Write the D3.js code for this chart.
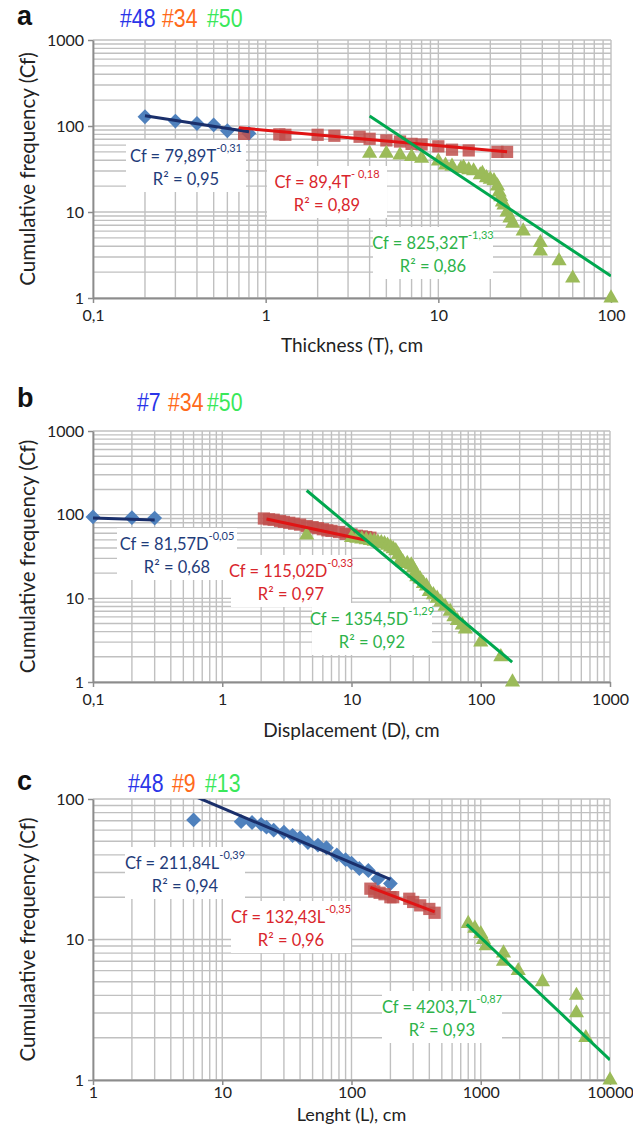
<!DOCTYPE html>
<html>
<head>
<meta charset="utf-8">
<script src="https://cdnjs.cloudflare.com/ajax/libs/d3/7.8.5/d3.min.js"></script>
<style>
  body { margin: 0; background: #fff; }
  svg { display: block; font-family: Lato, "Open Sans", sans-serif; }
</style>
</head>
<body>
<svg id="chart" width="633" height="1125"></svg>
<script>
// ---- panel a : thickness ----
const thickBlue = [[0.2,128],[0.3,114],[0.4,107],[0.5,103],[0.6,88],[0.8,82]];
const thickRed = [[0.75,81],[1.2,80],[1.3,79],[2,79],[2.5,77],[3.5,75],[4,71],[5,68],[6,66],[7,62],[8,61],[10,58],[12,53],[15,52],[22,50],[25,50]];
const thickGreen = [[4,48],[5,48],[6,46],[7,44],[8,42],[10,39],[11,35],[12,34],[13.5,32],[14,33],[15,31],[16,30],[17.5,27],[18,28],[19,25],[20,24],[21,23],[22,20],[22.5,17],[23,15],[23.5,13],[24,12],[25,10],[26,8.5],[27,7.4],[31,6],[39,4.4],[39,3.5],[50,2.7],[60,1.7],[100,1]];
const thickFit = [[79.89,-0.31,0.2,0.8],[89.4,-0.18,0.7,25],[825.32,-1.33,4,100]];
const thickEq = [['Cf = 79,89T','-0,31','R² = 0,95'],['Cf = 89,4T','- 0,18','R² = 0,89'],['Cf = 825,32T','-1,33','R² = 0,86']];
const thickTags = ['#48','#34','#50'];
const thickXTicks = [0.1,1,10,100];
const thickXLabels = ['0,1','1','10','100'];

// ---- panel b : displacement ----
const dispBlue = [[0.1,94],[0.2,92],[0.3,91]];
const dispRed = [[2.1,90],[2.3,88],[2.5,87],[2.8,84],[3,82],[3.3,80],[3.6,78],[4,76],[4.5,73],[5,71],[5.5,69],[6,67],[6.5,65],[7,64],[8,62],[9,59],[10,58],[11,56],[12,55],[13,54],[14,53]];
const dispGreen = [[4.5,57],[10,53],[11,52],[12,51],[13,50],[14,49],[15,48],[16,47],[17,46],[18,45],[19,43],[20,41],[21,39],[22,37],[23,33],[24,29],[25,27],[27,26],[29,25],[30,23],[31,20],[32,18],[34,17],[36,15],[38,14],[40,12],[43,11],[46,10],[49,9],[53,8],[58,7],[62,6],[66,5.4],[72,4.8],[76,4.3],[100,3],[143,2],[176,1]];
const dispFit = [[81.57,-0.05,0.1,0.3],[115.02,-0.33,2.2,13],[1354.5,-1.29,4.5,175]];
const dispEq = [['Cf = 81,57D','-0,05','R² = 0,68'],['Cf = 115,02D','-0,33','R² = 0,97'],['Cf = 1354,5D','-1,29','R² = 0,92']];
const dispTags = ['#7','#34','#50'];
const dispXTicks = [0.1,1,10,100,1000];
const dispXLabels = ['0,1','1','10','100','1000'];

// ---- panel c : length ----
const lenBlue = [[6,71],[14,69],[17,68],[20,66],[22,63],[25,60],[30,58],[35,55],[40,53],[46,49],[55,47],[64,45],[77,40],[90,37],[100,35],[115,32],[135,31],[160,27],[200,25]];
const lenRed = [[140,23],[150,22],[165,21.5],[180,21],[200,20],[210,20],[280,19.5],[300,18.5],[340,17.5],[400,16.5],[440,15.5]];
const lenGreen = [[800,13],[900,12],[1000,11],[1050,10],[1100,9],[1500,8],[1500,7],[1950,6],[3000,5],[5500,4],[5500,3],[6500,2],[10000,1]];
const lenFit = [[211.84,-0.39,6,200],[132.43,-0.35,140,440],[4203.7,-0.87,780,10000]];
const lenEq = [['Cf = 211,84L','-0,39','R² = 0,94'],['Cf = 132,43L','-0,35','R² = 0,96'],['Cf = 4203,7L','-0,87','R² = 0,93']];
const lenTags = ['#48','#9','#13'];
const lenXTicks = [1,10,100,1000,10000];
const lenXLabels = ['1','10','100','1000','10000'];

const yTicks3 = [1,10,100,1000];
const yTicks2 = [1,10,100];

const markerFill = ['#4f81bd','#c0504d','#9bbb59'];
const lineColor = ['#1a2f6b','#e01414','#00a84f'];
const eqColor = ['#1f3c7a','#d9262c','#2db34a'];
const tagColor = ['#2a35e8','#ff6a1a','#3ae85a'];

const svg = d3.select('#chart');

const panels = [
  { letter:'a', top:40, bottom:298, left:93, right:611, xDomain:[0.1,100], yDomain:[1,1000],
    series:[thickBlue,thickRed,thickGreen], fits:thickFit, eq:thickEq, tags:thickTags,
    xTicks:thickXTicks, xLabels:thickXLabels, yTicks:yTicks3,
    xTitle:'Thickness (T), cm', yTitle:'Cumulative frequency (Cf)', xTitleY:352, xTitleSize:19, tickPad:7,
    tagX:[120,162,207], tagY:27, letterY:25,
    eqPos:[[186,157],[327,183],[433,244]] },
  { letter:'b', top:431, bottom:682, left:93, right:610, xDomain:[0.1,1000], yDomain:[1,1000],
    series:[dispBlue,dispRed,dispGreen], fits:dispFit, eq:dispEq, tags:dispTags,
    xTicks:dispXTicks, xLabels:dispXLabels, yTicks:yTicks3,
    xTitle:'Displacement (D), cm', yTitle:'Cumulative frequency (Cf)', xTitleY:737, xTitleSize:19, tickPad:7,
    tagX:[137,168,207], tagY:411, letterY:407,
    eqPos:[[177,545],[291,572],[372,620]] },
  { letter:'c', top:799, bottom:1080, left:93, right:610, xDomain:[1,10000], yDomain:[1,100],
    series:[lenBlue,lenRed,lenGreen], fits:lenFit, eq:lenEq, tags:lenTags,
    xTicks:lenXTicks, xLabels:lenXLabels, yTicks:yTicks2,
    xTitle:'Lenght (L), cm', yTitle:'Cumulaative frequency (Cf)', xTitleY:1121, xTitleSize:18, tickPad:2,
    tagX:[128,172,205], tagY:792, letterY:790,
    eqPos:[[185,864],[291,918],[442,1008]] }
];

panels.forEach((p, pi) => {
  const g = svg.append('g');
  const x = d3.scaleLog().domain(p.xDomain).range([p.left, p.right]);
  const y = d3.scaleLog().domain(p.yDomain).range([p.bottom, p.top]);

  // gridlines (major + minor)
  const grid = g.append('g').attr('stroke', '#c0c0c0').attr('stroke-width', 1.4);
  grid.selectAll('.gx').data(x.ticks()).join('line')
    .attr('x1', d => x(d)).attr('x2', d => x(d))
    .attr('y1', p.top).attr('y2', p.bottom);
  grid.selectAll('.gy').data(y.ticks()).join('line')
    .attr('y1', d => y(d)).attr('y2', d => y(d))
    .attr('x1', p.left).attr('x2', p.right);

  // axes
  const xAxis = g.append('g').attr('transform', `translate(0,${p.bottom})`)
    .call(d3.axisBottom(x).tickValues(p.xTicks).tickFormat((d, i) => p.xLabels[i]).tickSize(5).tickSizeOuter(0).tickPadding(p.tickPad));
  const yAxis = g.append('g').attr('transform', `translate(${p.left},0)`)
    .call(d3.axisLeft(y).tickValues(p.yTicks).tickFormat(d3.format('d')).tickSize(5).tickSizeOuter(0).tickPadding(4));
  [xAxis, yAxis].forEach(a => {
    a.select('.domain').attr('stroke', '#8c8c8c').attr('stroke-width', 1.8);
    a.selectAll('.tick line').attr('stroke', '#8c8c8c').attr('stroke-width', 1.5);
    a.selectAll('.tick text').attr('font-family', 'Lato, sans-serif').attr('font-size', 16).attr('fill', '#222');
  });

  // markers
  const shapes = [
    d3.symbol().type(d3.symbolSquare).size(110),
    d3.symbol().type(d3.symbolSquare).size(150),
    d3.symbol().type(d3.symbolTriangle).size(100)
  ];
  p.series.forEach((s, si) => {
    g.append('g').selectAll('path').data(s).join('path')
      .attr('d', shapes[si])
      .attr('transform', d => `translate(${x(d[0])},${y(d[1])})` + (si === 0 ? ' rotate(45)' : ''))
      .attr('fill', markerFill[si])
      .attr('fill-opacity', si === 1 ? 0.85 : 1);
  });

  // trend lines, clipped to plot area
  const clipId = 'clip' + pi;
  svg.append('clipPath').attr('id', clipId).append('rect')
    .attr('x', p.left).attr('y', p.top)
    .attr('width', p.right - p.left).attr('height', p.bottom - p.top);
  const line = d3.line().x(d => x(d[0])).y(d => y(d[1]));
  g.append('g').attr('clip-path', `url(#${clipId})`)
    .selectAll('path').data(p.fits).join('path')
    .attr('d', f => line([[f[2], f[0] * Math.pow(f[2], f[1])], [f[3], f[0] * Math.pow(f[3], f[1])]]))
    .attr('stroke', (f, i) => lineColor[i]).attr('stroke-width', 3).attr('fill', 'none');

  // equation labels
  p.eq.forEach((e, i) => {
    const [cx, cy] = p.eqPos[i];
    g.append('rect').attr('x', cx - 60).attr('y', cy - 17).attr('width', 120).attr('height', 52).attr('fill', '#fff');
    const t = g.append('text').attr('x', cx).attr('y', cy + 5).attr('text-anchor', 'middle')
      .attr('font-size', 16.5).attr('fill', eqColor[i]);
    t.append('tspan').text(e[0]);
    t.append('tspan').attr('dy', -10).attr('font-size', 11).text(e[1]);
    g.append('text').attr('x', cx).attr('y', cy + 28).attr('text-anchor', 'middle')
      .attr('font-size', 16.5).attr('fill', eqColor[i]).text(e[2]);
  });

  // series tags
  g.selectAll('.tag').data(p.tags).join('text')
    .attr('transform', (d, i) => `translate(${p.tagX[i]},${p.tagY}) scale(0.82,1)`)
    .attr('font-family', '"Liberation Sans", Arial, sans-serif').attr('font-size', 26)
    .attr('fill', (d, i) => tagColor[i]).text(d => d);

  // panel letter
  g.append('text').attr('x', 17).attr('y', p.letterY)
    .attr('font-family', '"Liberation Sans", Arial, sans-serif').attr('font-weight', 'bold')
    .attr('font-size', 27).attr('fill', '#111').text(p.letter);

  // axis titles
  g.append('text').attr('x', (p.left + p.right) / 2).attr('y', p.xTitleY)
    .attr('text-anchor', 'middle').attr('font-size', p.xTitleSize).attr('fill', '#222').text(p.xTitle);
  g.append('text').attr('transform', `translate(35,${(p.top + p.bottom) / 2}) rotate(-90)`)
    .attr('text-anchor', 'middle').attr('font-size', 20.5).attr('fill', '#222').text(p.yTitle);
});
</script>
</body>
</html>
